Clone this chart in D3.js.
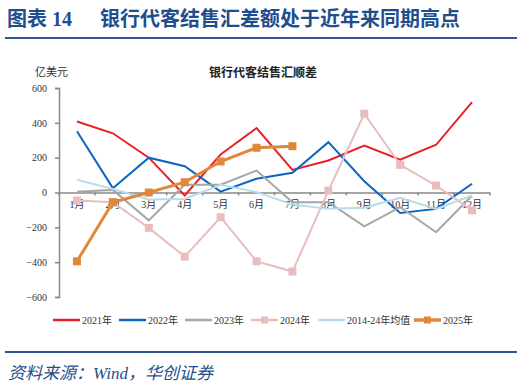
<!DOCTYPE html>
<html>
<head>
<meta charset="utf-8">
<script src="https://cdn.jsdelivr.net/npm/d3@7"></script>
<style>
  body { margin: 0; background: #fff; }
  svg text { font-family: "Liberation Serif", "Noto Sans CJK SC", serif; }
</style>
</head>
<body>
<div id="chart"></div>
<script>
// Categories and series (亿美元)
var months = ["1月","2月","3月","4月","5月","6月","7月","8月","9月","10月","11月","12月"];
var y2021 = [408, 340, 200, -17, 218, 370, 130, 184, 270, 188, 274, 519];
var y2022 = [352, 25, 200, 151, 5, 79, 113, 289, 65, -117, -94, 50];
var y2023 = [5, 15, -160, 44, 45, 126, -56, -56, -194, -84, -228, -17];
var y2024 = [-46, -56, -203, -368, -142, -395, -454, 11, 452, 159, 40, -103];
var yAvg  = [73, 20, -40, -37, 44, 2, -69, -94, -88, -31, -94, -17];
var y2025 = [-395, -56, 0, 59, 178, 257, 266];
var yTicks = [600, 400, 200, 0, -200, -400, -600];

var series = [
  {name: "2021年", values: y2021, color: "#E8202A", width: 2, marker: false},
  {name: "2022年", values: y2022, color: "#0A66C2", width: 2, marker: false},
  {name: "2023年", values: y2023, color: "#A6A6A6", width: 2, marker: false},
  {name: "2024年", values: y2024, color: "#E9BDBD", width: 2, marker: true},
  {name: "2014-24年均值", values: yAvg, color: "#B7DEE8", width: 2, marker: false},
  {name: "2025年", values: y2025, color: "#E0873A", width: 3, marker: true}
];

var width = 524, height = 387;
var svg = d3.select("#chart").append("svg")
    .attr("width", width)
    .attr("height", height);

// Header
svg.append("text")
    .attr("x", 7).attr("y", 26)
    .attr("font-family", "Noto Sans CJK SC")
    .attr("font-weight", "bold")
    .attr("font-size", "20px")
    .attr("fill", "#1F4E8C")
    .text("图表 14");
svg.append("text")
    .attr("x", 100).attr("y", 26)
    .attr("font-family", "Noto Sans CJK SC")
    .attr("font-weight", "bold")
    .attr("font-size", "20px")
    .attr("fill", "#1F4E8C")
    .text("银行代客结售汇差额处于近年来同期高点");
svg.append("line")
    .attr("x1", 5).attr("x2", 517).attr("y1", 38).attr("y2", 38)
    .attr("stroke", "#2E5597").attr("stroke-width", 2);

// Chart titles
svg.append("text")
    .attr("x", 35).attr("y", 76)
    .attr("font-family", "Noto Sans CJK SC")
    .attr("font-size", "11px")
    .attr("fill", "#333")
    .text("亿美元");
svg.append("text")
    .attr("x", 263).attr("y", 77)
    .attr("text-anchor", "middle")
    .attr("font-family", "Noto Sans CJK SC")
    .attr("font-weight", "bold")
    .attr("font-size", "12px")
    .attr("fill", "#222")
    .text("银行代客结售汇顺差");

// Scales
var left = 59, right = 490;
var x = d3.scaleBand().domain(months).range([left, right]);
var y = d3.scaleLinear().domain([-600, 600]).range([297, 88]);

// Y axis
var yAxis = svg.append("g")
    .attr("transform", "translate(" + left + ",0)")
    .call(d3.axisLeft(y).tickValues(yTicks).tickSize(4).tickPadding(8));
yAxis.selectAll("path, line").attr("stroke", "#888").attr("stroke-width", 1.5);
yAxis.selectAll("text").attr("font-size", "10px").attr("fill", "#333")
    .attr("font-family", "Liberation Serif");

// X axis at zero
var xAxis = svg.append("g")
    .attr("transform", "translate(0," + y(0) + ")")
    .call(d3.axisBottom(x).tickSize(0).tickPadding(8));
xAxis.select("path").attr("stroke", "#888").attr("stroke-width", 1.5);
xAxis.selectAll("text").attr("font-size", "10px").attr("fill", "#333")
    .attr("font-family", "Liberation Serif, Noto Sans CJK SC");
// boundary ticks between categories
svg.append("g").selectAll("line")
    .data(d3.range(months.length + 1))
    .enter()
    .append("line")
        .attr("x1", function(i){ return left + i * x.step(); })
        .attr("x2", function(i){ return left + i * x.step(); })
        .attr("y1", y(0)).attr("y2", y(0) + 3)
        .attr("stroke", "#888").attr("stroke-width", 1.5);

// Lines
var line = d3.line()
    .x(function(d, i){ return x(months[i]) + x.bandwidth() / 2; })
    .y(function(d){ return y(d); });

series.forEach(function(s) {
    svg.append("path")
        .datum(s.values)
        .attr("fill", "none")
        .attr("stroke", s.color)
        .attr("stroke-width", s.width)
        .attr("d", line);
    if (s.marker) {
        svg.append("g").selectAll("rect")
            .data(s.values)
            .enter()
            .append("rect")
                .attr("x", function(d, i){ return x(months[i]) + x.bandwidth() / 2 - 4; })
                .attr("y", function(d){ return y(d) - 4; })
                .attr("width", 8).attr("height", 8)
                .attr("fill", s.color);
    }
});

// Legend
var legendX = [53, 119, 185, 251, 318, 414];
var legend = svg.append("g").selectAll("g")
    .data(series)
    .enter()
    .append("g")
        .attr("transform", function(d, i){ return "translate(" + legendX[i] + ",320)"; });
legend.append("line")
    .attr("x1", 0).attr("x2", 27).attr("y1", 0).attr("y2", 0)
    .attr("stroke", function(d){ return d.color; })
    .attr("stroke-width", function(d){ return d.width + 0.5; });
legend.filter(function(d){ return d.marker; })
    .append("rect")
        .attr("x", 10).attr("y", -3.5).attr("width", 7).attr("height", 7)
        .attr("fill", function(d){ return d.color; });
legend.append("text")
    .attr("x", 29).attr("y", 4)
    .attr("font-size", "10px")
    .attr("fill", "#333")
    .text(function(d){ return d.name; });

// Footer
svg.append("line")
    .attr("x1", 5).attr("x2", 517).attr("y1", 352).attr("y2", 352)
    .attr("stroke", "#2E5597").attr("stroke-width", 2);
svg.append("text")
    .attr("x", 8).attr("y", 379)
    .attr("font-size", "17px")
    .attr("font-style", "italic")
    .attr("fill", "#1F4E8C")
    .text("资料来源：Wind，华创证券");
</script>
</body>
</html>
